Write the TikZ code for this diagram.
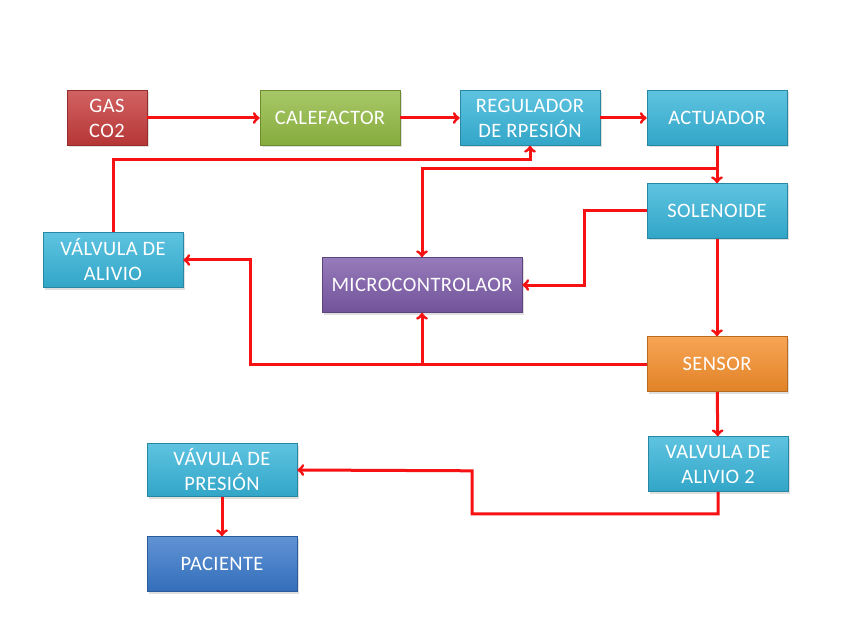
\documentclass[tikz,border=0pt]{standalone}
\usepackage{fontspec}
\setmainfont{Carlito}[LetterSpace=2]
\usetikzlibrary{arrows}
\usetikzlibrary{positioning}
\usetikzlibrary{shadows}

\definecolor{gasred}{HTML}{C63A3A}
\definecolor{calgreen}{HTML}{92BA42}
\definecolor{valvecyan}{HTML}{36B4D9}
\definecolor{micropurple}{HTML}{7C5AA8}
\definecolor{sensororange}{HTML}{F58E2A}
\definecolor{pacblue}{HTML}{3878CA}
\definecolor{flowred}{HTML}{F61212}

\begin{document}
\begin{tikzpicture}[x=1pt,y=-1pt,
  box/.style={rectangle,top color=#1!80!white,bottom color=#1!92!black,draw=#1!75!black,
    line width=0.6pt,text=white,align=center,minimum width=140pt,minimum height=55pt,
    inner sep=2pt,font=\fontsize{20.5}{25}\selectfont,
    drop shadow={opacity=0.25,shadow xshift=1.5pt,shadow yshift=-2pt}},
  flow/.style={draw=flowred,line width=3pt,->}]
  \useasboundingbox (0,0) rectangle (848,636);

  \node[box=gasred,minimum width=80pt] (gas) at (107,118) {GAS\\CO2};
  \node[box=calgreen] (cal) at (330,118) {CALEFACTOR};
  \node[box=valvecyan] (reg) at (530,118) {REGULADOR\\DE RPESIÓN};
  \node[box=valvecyan] (act) at (717,118) {ACTUADOR};
  \node[box=valvecyan] (sol) at (717,211) {SOLENOIDE};
  \node[box=valvecyan] (alivio) at (113,260) {VÁLVULA DE\\ALIVIO};
  \node[box=micropurple,minimum width=200pt] (micro) at (422,285) {MICROCONTROLAOR};
  \node[box=sensororange] (sensor) at (717,364) {SENSOR};
  \node[box=valvecyan] (valv2) at (718,464) {VALVULA DE\\ALIVIO 2};
  \node[box=valvecyan,minimum width=150pt,minimum height=53pt] (vpres) at (222,470) {VÁVULA DE\\PRESIÓN};
  \node[box=pacblue,minimum width=150pt] (pac) at (222,564) {PACIENTE};

  \coordinate (j1) at (717,169);
  \coordinate (j2) at (250,364);

  \draw[flow](gas)--(cal);
  \draw[flow](cal)--(reg);
  \draw[flow](reg)--(act);
  \draw[flow](act)--(sol);
  \draw[flow](j1)-|(micro);
  \draw[flow](alivio.north)--++(0,-73)-|(reg.south);
  \draw[flow](sol.west)--++(-62,0)|-(micro.east);
  \draw[flow](sol)--(sensor);
  \draw[flow](sensor.west)--(j2)|-(alivio.east);
  \draw[flow](sensor.west)-|(micro.south);
  \draw[flow](sensor)--(valv2);
  \draw[flow](valv2.south)--++(0,22)-|++(-246,-43)--(vpres.east);
  \draw[flow](vpres)--(pac);
\end{tikzpicture}
\end{document}
